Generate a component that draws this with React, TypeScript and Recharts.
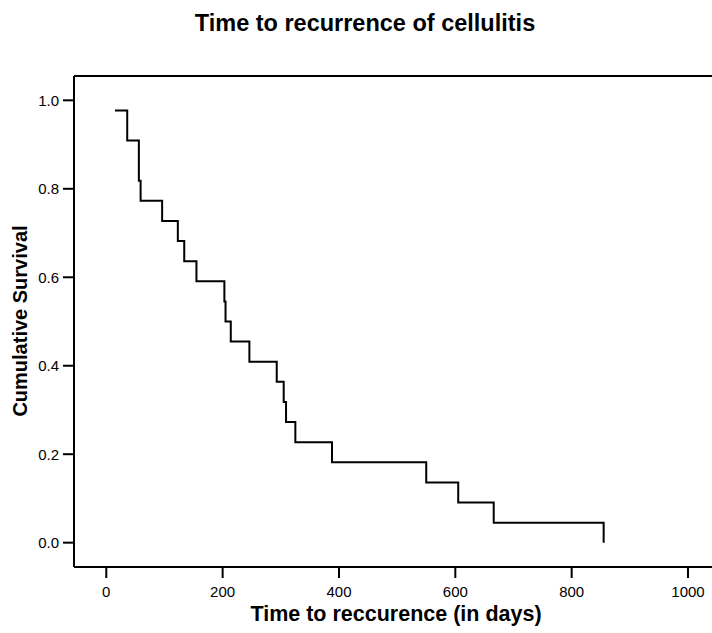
import { LineChart, Line, XAxis, YAxis, ReferenceLine, Label } from 'recharts'

// Kaplan-Meier estimate (days, cumulative survival)
const TIMES = [15, 36, 56, 59, 96, 123, 134, 155, 203, 205, 214, 246, 293, 305, 309, 325, 388, 550, 605, 666, 855]
const SURVIVAL = [0.977, 0.909, 0.818, 0.773, 0.727, 0.682, 0.636, 0.591, 0.545, 0.5, 0.455, 0.409, 0.364, 0.318, 0.273, 0.227, 0.182, 0.136, 0.091, 0.045, 0.0]

const X_TICKS = [0, 200, 400, 600, 800, 1000]
const Y_TICKS = [0, 0.2, 0.4, 0.6, 0.8, 1.0]
const X_DOMAIN: [number, number] = [-55.5, 1055]
const Y_DOMAIN: [number, number] = [-0.055, 1.055]

const TITLE = 'Time to recurrence of cellulitis'
const X_TITLE = 'Time to reccurence (in days)'
const Y_TITLE = 'Cumulative Survival'

const data = TIMES.map((t, i) => ({ t, s: SURVIVAL[i] }))

const font = '"Liberation Sans", Arial, sans-serif'
const tickStyle = { fontSize: 15, fill: '#000', fontFamily: font }

export default function App() {
  return (
    <div style={{ position: 'absolute', left: 0, top: 0, width: 712, height: 633, overflow: 'hidden', background: '#fff' }}>
      <LineChart width={730} height={633} data={data} margin={{ top: 76, right: 10, left: 0, bottom: 36 }}>
        <text x={365} y={31} textAnchor="middle" fontFamily={font} fontWeight="bold" fontSize={23.5} fill="#000">
          {TITLE}
        </text>
        <XAxis
          type="number"
          dataKey="t"
          domain={X_DOMAIN}
          ticks={X_TICKS}
          allowDataOverflow
          height={30}
          tickSize={11}
          tickMargin={8}
          tick={tickStyle}
          tickLine={{ stroke: '#000', strokeWidth: 2 }}
          axisLine={{ stroke: '#000', strokeWidth: 2 }}
        >
          <Label
            content={() => (
              <text x={396} y={621} textAnchor="middle" fontFamily={font} fontWeight="bold" fontSize={21.5} fill="#000">
                {X_TITLE}
              </text>
            )}
          />
        </XAxis>
        <YAxis
          type="number"
          domain={Y_DOMAIN}
          ticks={Y_TICKS}
          allowDataOverflow
          width={74}
          tickSize={11}
          tickMargin={4}
          tick={tickStyle}
          tickFormatter={(v) => Number(v).toFixed(1)}
          tickLine={{ stroke: '#000', strokeWidth: 2 }}
          axisLine={{ stroke: '#000', strokeWidth: 2 }}
        >
          <Label
            content={() => (
              <text
                x={27}
                y={321}
                textAnchor="middle"
                transform="rotate(-90 27 321)"
                fontFamily={font}
                fontWeight="bold"
                fontSize={20}
                fill="#000"
              >
                {Y_TITLE}
              </text>
            )}
          />
        </YAxis>
        <ReferenceLine y={Y_DOMAIN[1]} stroke="#000" strokeWidth={2} />
        <Line
          type="stepAfter"
          dataKey="s"
          stroke="#000"
          strokeWidth={2}
          dot={false}
          activeDot={false}
          isAnimationActive={false}
        />
      </LineChart>
    </div>
  )
}
